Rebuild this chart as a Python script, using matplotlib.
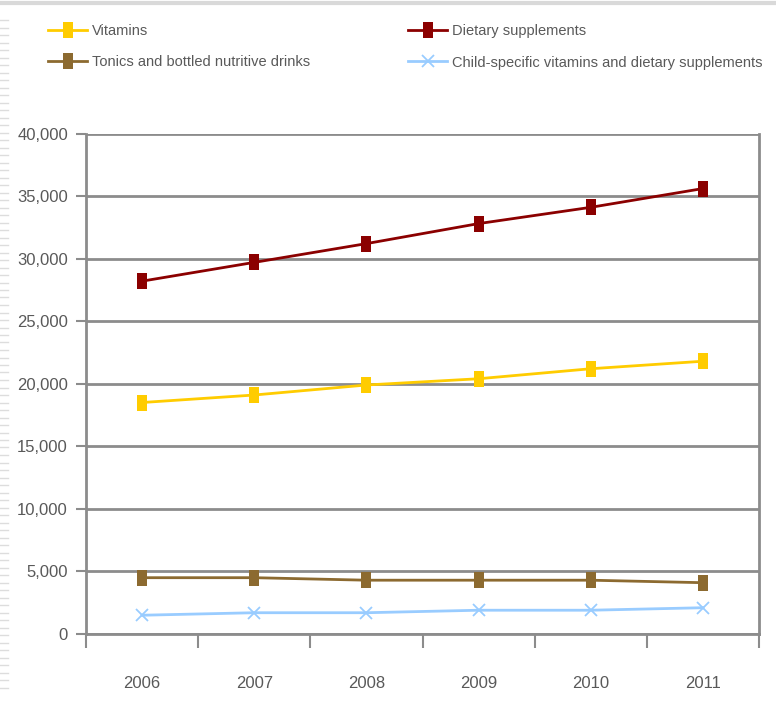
import matplotlib
matplotlib.use("Agg")
import matplotlib.pyplot as plt
from matplotlib.path import Path
from matplotlib.lines import Line2D
import numpy as np

years = ["2006", "2007", "2008", "2009", "2010", "2011"]
vitamins = [18500, 19100, 19900, 20400, 21200, 21800]
dietary = [28200, 29700, 31200, 32800, 34100, 35600]
tonics = [4500, 4500, 4300, 4300, 4300, 4100]
child = [1500, 1700, 1700, 1900, 1900, 2100]

series_names = [
    "Vitamins",
    "Dietary supplements",
    "Tonics and bottled nutritive drinks",
    "Child-specific vitamins and dietary supplements",
]

plt.rcParams["font.family"] = ["Liberation Sans", "DejaVu Sans"]
text_grey = "#595959"
grid_grey = "#8c8c8c"

# tall, narrow box marker
rect = Path([(-0.55, -1), (0.55, -1), (0.55, 1), (-0.55, 1), (-0.55, -1)],
            [Path.MOVETO, Path.LINETO, Path.LINETO, Path.LINETO, Path.CLOSEPOLY])

fig = plt.figure(figsize=(7.76, 7.15), dpi=100)
fig.patch.set_facecolor("white")

W, H = 776, 715
left, right, top, bottom = 86, 759, 133.5, 634
ax = fig.add_axes([left / W, 1 - bottom / H, (right - left) / W, (bottom - top) / H])

x = np.arange(len(years))
styles = [
    (vitamins, "#FFCC00", rect, 12, 0),
    (dietary, "#8B0000", rect, 12, 0),
    (tonics, "#8C6A30", rect, 12, 0),
    (child, "#99CCFF", "x", 9, 1.3),
]
handles = []
for (vals, col, mk, ms, mew), name in zip(styles, series_names):
    h, = ax.plot(x, vals, color=col, lw=2, marker=mk, markersize=ms,
                 markerfacecolor=col, markeredgecolor=col,
                 markeredgewidth=mew, label=name, zorder=3)
    handles.append(h)

ax.set_xlim(-0.5, len(years) - 0.5)
ax.set_ylim(0, 40000)
yt = np.arange(0, 40001, 5000)
ax.set_yticks(yt)
ax.set_yticklabels([f"{v:,}" for v in yt])
ax.yaxis.grid(True, color=grid_grey, lw=2)
ax.set_axisbelow(True)

ax.set_xticks(np.arange(-0.5, len(years), 1.0))
ax.set_xticklabels([])
ax.set_xticks(x, minor=True)
ax.set_xticklabels(years, minor=True)
ax.tick_params(axis="x", which="major", length=10, width=1.5, color=grid_grey, direction="out")
ax.tick_params(axis="x", which="minor", length=0, pad=30, labelsize=12, labelcolor=text_grey)
ax.tick_params(axis="y", length=7, width=1.5, color=grid_grey, pad=6,
               labelsize=12, labelcolor=text_grey)

for s in ["left", "bottom", "right"]:
    ax.spines[s].set_color(grid_grey)
    ax.spines[s].set_linewidth(2)
ax.spines["top"].set_visible(False)

# two legend columns placed independently
leg_kw = dict(frameon=False, loc="upper left", fontsize=10.5, handlelength=2.7,
              labelspacing=1.2, handletextpad=0.3, labelcolor=text_grey,
              borderaxespad=0, borderpad=0)
leg1 = fig.legend([handles[0], handles[2]], [series_names[0], series_names[2]],
                  bbox_to_anchor=(48 / W, 1 - 24 / H), **leg_kw)
leg2 = fig.legend([handles[1], handles[3]], [series_names[1], series_names[3]],
                  bbox_to_anchor=(408 / W, 1 - 24 / H), **leg_kw)

# page edge decoration
fig.add_artist(Line2D([0, 1], [1 - 3 / H, 1 - 3 / H], transform=fig.transFigure,
                      color="#d9d9d9", lw=3))
for yy in np.arange(20, H - 20, 7.5):
    fig.add_artist(Line2D([0, 8 / W], [1 - yy / H, 1 - yy / H], transform=fig.transFigure,
                          color="#dddddd", lw=1))

fig.savefig("out.png", dpi=100)
